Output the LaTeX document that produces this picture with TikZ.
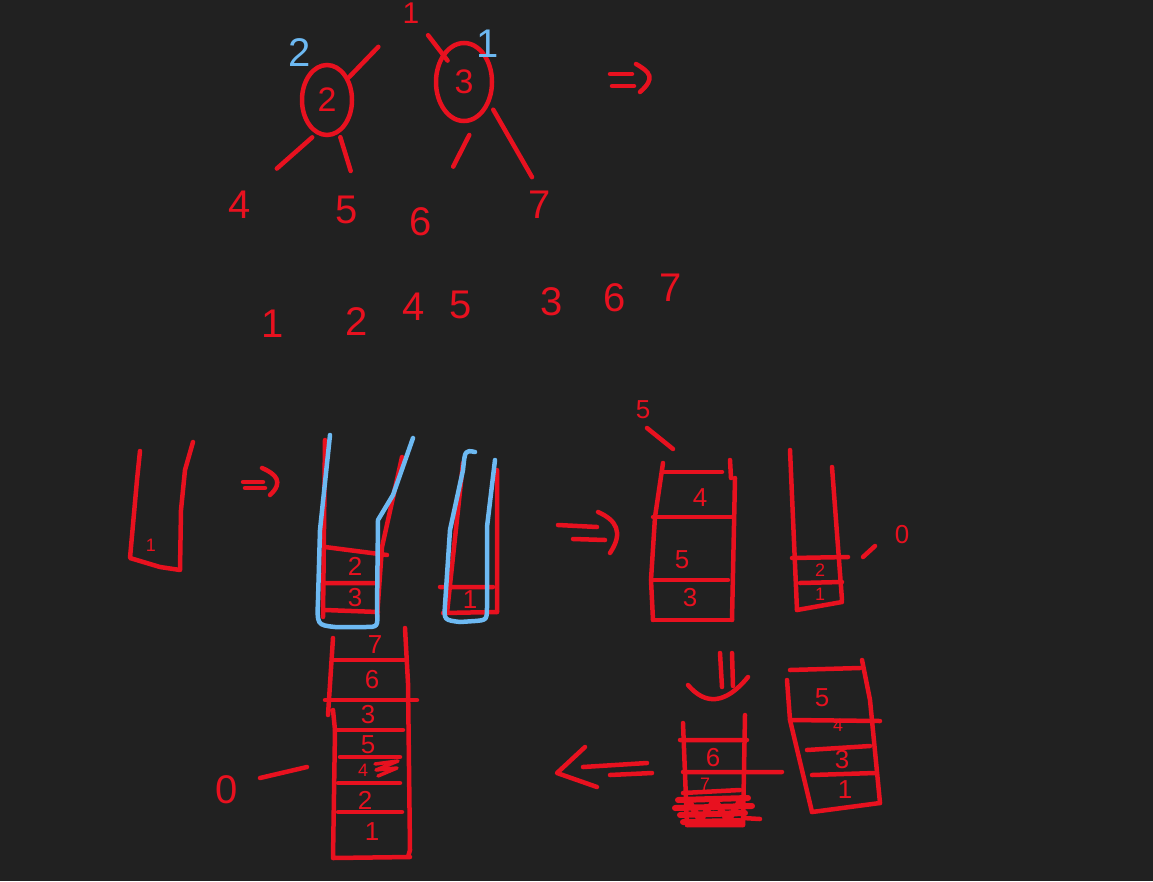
\documentclass[tikz,border=0pt]{standalone}
\usepackage{fontspec}
\setmainfont{Liberation Sans}
\usepackage{tikz}
\usetikzlibrary{shapes.geometric}
\usepackage{xcolor}
\definecolor{BoardBg}{HTML}{212121}
\definecolor{InkRed}{HTML}{E8111F}
\definecolor{InkBlue}{HTML}{6DB9F2}

\begin{document}
\begin{tikzpicture}[x=1pt,y=-1pt,
  pen/.style={InkRed,line width=4.5pt,line cap=round,line join=round},
  bluepen/.style={InkBlue,line width=4.5pt,line cap=round,line join=round},
  digit/.style={text=InkRed,inner sep=0pt,font=\fontsize{40}{40}\selectfont},
  celldigit/.style={text=InkRed,inner sep=0pt,font=\fontsize{26}{26}\selectfont},
  tinydigit/.style={text=InkRed,inner sep=0pt,font=\fontsize{18}{18}\selectfont},
  knot/.style={ellipse,draw=InkRed,line width=4.5pt,inner sep=0pt,text=InkRed,font=\fontsize{34}{34}\selectfont}]
\fill[BoardBg] (0,0) rectangle (1153,881);
\useasboundingbox (0,0) rectangle (1153,881);

% tree
\node[digit,font=\fontsize{30}{30}\selectfont] (root) at (411,13) {1};
\node[knot,minimum width=50pt,minimum height=70pt] (n2) at (327,100) {2};
\node[knot,minimum width=56pt,minimum height=78pt] (n3) at (464,82) {3};
\node[digit,text=InkBlue] (w2) at (300,53) {2};
\node[digit,text=InkBlue] (w3) at (488,44) {1};
\node[digit] (l4) at (240,205) {4};
\node[digit] (l5) at (347,210) {5};
\node[digit] (l6) at (421,222) {6};
\node[digit] (l7) at (540,205) {7};
\draw[pen,shorten <=47pt,shorten >=32pt] (root.center) -- (n2.center);
\draw[pen,shorten <=28pt,shorten >=27pt] (root.center) -- (n3.center);
\draw[pen,shorten <=5pt,shorten >=34pt] (n2.252) -- (l4.north east);
\draw[pen,shorten <=4pt,shorten >=26pt] (n2.290) -- (l5.north east);
\draw[pen,shorten <=18pt,shorten >=46pt] (n3.290) -- (l6.north east);
\draw[pen,shorten <=7pt,shorten >=16pt] (n3.320) -- (l7.north);
\draw[pen] (610,74) -- (632,74) (612,86) -- (634,86);
\draw[pen] (636,64) .. controls (650,72) and (656,78) .. (640,92);

% preorder
\node[digit] (s1) at (273,324) {1};
\node[digit] (s2) at (357,322) {2};
\node[digit] (s4) at (414,307) {4};
\node[digit] (s5) at (461,305) {5};
\node[digit] (s3) at (552,302) {3};
\node[digit] (s6) at (615,298) {6};
\node[digit] (s7) at (671,288) {7};

% stacks
\draw[pen] (140,451) -- (137,480) -- (130,558) -- (160,567) -- (180,570) -- (181,510) -- (185,470) -- (193,442);
\node[tinydigit] (a1) at (151,545) {1};
\draw[pen] (243,482) -- (263,482) (245,488) -- (265,488);
\draw[pen] (262,468) .. controls (276,474) and (284,482) .. (270,495);

\draw[pen] (325,440) -- (323,617) (402,457) -- (382,547) -- (377,617);
\draw[pen] (325,547) -- (387,555) (325,583) -- (375,583) (325,610) -- (378,612);
\node[celldigit] (b2) at (355,566) {2};
\node[celldigit] (b3) at (355,598) {3};
\draw[bluepen] (330,435) -- (320,530) -- (318,600) .. controls (317,625) .. (335,627) -- (365,627) .. controls (378,627) .. (377,610) -- (378,520) -- (393,495) -- (413,438);

\draw[pen] (463,463) -- (447,613) (497,470) -- (497,612);
\draw[pen] (440,587) -- (493,587) (443,613) -- (497,612);
\node[celldigit] (c1) at (470,600) {1};
\draw[bluepen] (475,452) .. controls (465,450) .. (463,470) -- (450,530) -- (445,605) .. controls (444,620) .. (460,622) -- (475,621) .. controls (487,620) .. (487,605) -- (487,527) -- (495,460);

\draw[pen] (558,525) -- (597,527) (573,539) -- (605,540);
\draw[pen] (598,512) .. controls (616,520) and (624,532) .. (610,553);

\draw[pen] (663,463) -- (655,517) -- (651,580) -- (653,620) (730,460) -- (731,478) (735,478) -- (732,620);
\draw[pen] (663,472) -- (722,472) (653,517) -- (732,517) (651,580) -- (728,580) (653,620) -- (732,620);
\node[celldigit] (d4) at (700,498) {4};
\node[celldigit] (d5) at (682,560) {5};
\node[celldigit] (d3) at (690,598) {3};
\node[celldigit] (dtop) at (643,410) {5};
\draw[pen] (647,428) -- (673,449);

\draw[pen] (790,450) -- (797,610) (832,467) -- (842,600);
\draw[pen] (792,558) -- (848,557) (800,583) -- (842,582) (797,610) -- (842,602);
\node[tinydigit] (e2) at (820,570) {2};
\node[tinydigit] (e1) at (820,594) {1};
\draw[pen] (863,557) -- (875,546);
\node[celldigit] (e0) at (902,535) {0};

\draw[pen] (720,653) -- (722,687) (732,653) -- (733,686);
\draw[pen] (688,685) .. controls (705,705) and (725,705) .. (748,677);

\draw[pen] (683,723) -- (687,825) (745,715) -- (743,825);
\draw[pen] (680,740) -- (747,740) (683,772) -- (782,772) (683,793) -- (740,790) (687,825) -- (743,825) (743,818) -- (760,819);
\node[celldigit] (f6) at (713,758) {6};
\node[tinydigit] (f7) at (705,784) {7};
\draw[pen,line width=6pt] (678,800) -- (748,798) (675,808) -- (752,806) (680,815) -- (745,813) (683,822) -- (740,821) (690,803) -- (700,820) -- (715,800) -- (728,821) -- (740,801);

\draw[pen] (790,670) -- (860,668) (787,680) -- (790,720) -- (812,812) (862,660) -- (870,700) -- (880,803);
\draw[pen] (790,720) -- (880,721) (807,750) -- (870,746) (812,775) -- (875,773) (812,812) -- (880,803);
\node[celldigit] (g5) at (822,698) {5};
\node[tinydigit] (g4) at (838,725) {4};
\node[celldigit] (g3) at (842,760) {3};
\node[celldigit] (g1) at (845,790) {1};

\draw[pen] (585,747) -- (557,773) -- (597,787);
\draw[pen] (583,767) -- (647,763) (610,775) -- (652,773);

\draw[pen] (333,638) -- (328,715) (405,628) -- (408,683) -- (410,850) -- (408,857) (333,710) -- (335,730) -- (333,858) (333,858) -- (410,857);
\draw[pen] (333,660) -- (405,660) (325,700) -- (417,700) (335,730) -- (403,730) (340,757) -- (400,757) (338,783) -- (400,783) (338,812) -- (402,812);
\node[celldigit] (h7) at (375,645) {7};
\node[celldigit] (h6) at (372,680) {6};
\node[celldigit] (h3) at (368,715) {3};
\node[celldigit] (h5) at (368,745) {5};
\node[tinydigit] (h4) at (363,770) {4};
\draw[pen,line width=3.5pt] (375,764) -- (398,761) -- (376,770) -- (397,768) -- (378,776);
\node[celldigit] (h2) at (365,800) {2};
\node[celldigit] (h1) at (372,832) {1};
\draw[pen] (260,778) -- (307,767);
\node[digit] (h0) at (227,790) {0};
\end{tikzpicture}
\end{document}
